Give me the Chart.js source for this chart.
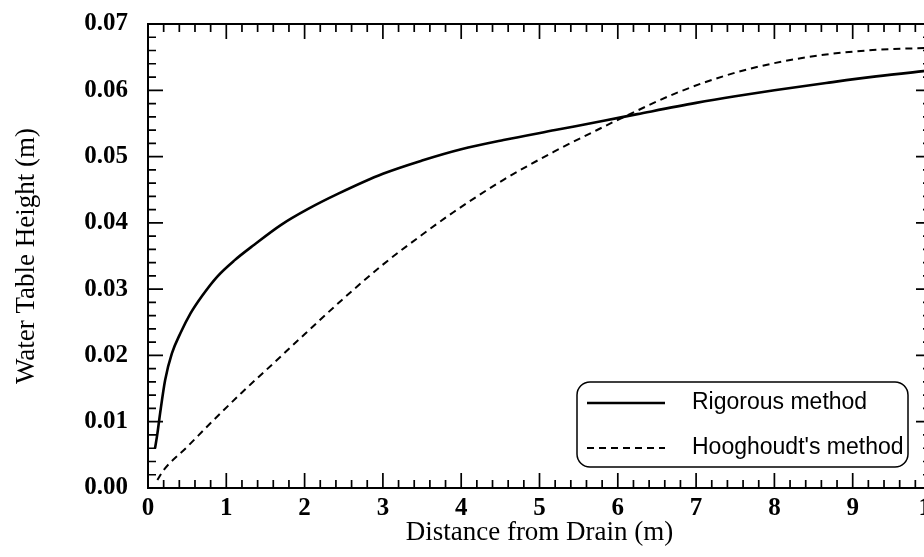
<!DOCTYPE html>
<html>
<head>
<meta charset="utf-8">
<title>Water Table Height</title>
<script src="https://cdn.jsdelivr.net/npm/chart.js@4.4.0/dist/chart.umd.min.js"></script>
<style>
  html, body { margin: 0; padding: 0; background: #fff; overflow: hidden; }
  #wrap { width: 932px; height: 557px; }
</style>
</head>
<body>
<div id="wrap"><canvas id="myChart"></canvas></div>
<script>
'use strict';

// Rigorous method (solid)
var rigX = [0.09, 0.12, 0.155, 0.219, 0.305, 0.412, 0.541, 0.692, 0.885, 1.1, 1.357, 1.7, 2.045, 2.43,
            3.0, 3.5, 4.0, 4.54, 5.2, 5.82, 6.25, 7.0, 7.5, 8.0, 8.66, 9.3, 10];
var rigY = [0.006, 0.0082, 0.0113, 0.0163, 0.0203, 0.0233, 0.0263, 0.029, 0.0319, 0.0343, 0.0367, 0.0397, 0.0421, 0.0444,
            0.0474, 0.0494, 0.0511, 0.0525, 0.054, 0.0554, 0.0564, 0.0581, 0.0591, 0.06, 0.0611, 0.0621, 0.063];

// Hooghoudt's method (dashed)
var hooX = [0.12, 0.2, 0.5, 0.8, 1.19, 1.61, 2.0, 2.47, 3.0, 3.5, 3.9, 4.54, 5.18, 5.82, 6.1,
            6.73, 7.37, 8.0, 8.66, 9.3, 10];
var hooY = [0.0012, 0.0027, 0.0062, 0.0098, 0.0143, 0.0189, 0.0232, 0.0283, 0.0337, 0.0382, 0.0416, 0.0465, 0.0507, 0.0545, 0.0561,
            0.0595, 0.0622, 0.0641, 0.0654, 0.0661, 0.0664];

var seriesNames = ['Rigorous method', "Hooghoudt's method"];
var xTickLabels = ['0', '1', '2', '3', '4', '5', '6', '7', '8', '9', '10'];
var yTickLabels = ['0.00', '0.01', '0.02', '0.03', '0.04', '0.05', '0.06', '0.07'];

function toPoints(xs, ys) {
  var pts = [];
  for (var i = 0; i < xs.length; i++) {
    pts.push({x: xs[i], y: ys[i]});
  }
  return pts;
}

function isMajorX(v) { return Math.abs(v - Math.round(v)) < 1e-6; }
function isMajorY(v) { return Math.abs(v * 100 - Math.round(v * 100)) < 1e-6; }

// frame + inward tick marks on all four sides
var frameTicks = {
  id: 'frameTicks',
  afterDatasetsDraw: function (chart) {
    var ctx = chart.ctx;
    var a = chart.chartArea;
    var xs = chart.scales.x, ys = chart.scales.y;
    ctx.save();
    ctx.strokeStyle = '#000';
    ctx.lineWidth = 2;
    ctx.strokeRect(a.left, a.top, a.right - a.left, a.bottom - a.top);
    ctx.lineWidth = 1.7;
    ctx.beginPath();
    xs.ticks.forEach(function (t) {
      var px = xs.getPixelForValue(t.value);
      var len = isMajorX(t.value) ? 15 : 8;
      ctx.moveTo(px, a.bottom); ctx.lineTo(px, a.bottom - len);
      ctx.moveTo(px, a.top); ctx.lineTo(px, a.top + len);
    });
    ys.ticks.forEach(function (t) {
      var py = ys.getPixelForValue(t.value);
      var len = isMajorY(t.value) ? 15 : 8;
      ctx.moveTo(a.left, py); ctx.lineTo(a.left + len, py);
      ctx.moveTo(a.right, py); ctx.lineTo(a.right - len, py);
    });
    ctx.stroke();
    ctx.restore();
  }
};

// rounded legend box in the lower right
var boxLegend = {
  id: 'boxLegend',
  afterDraw: function (chart) {
    var ctx = chart.ctx;
    var left = 577, top = 382, right = 908, bottom = 467, r = 13;
    ctx.save();
    ctx.fillStyle = '#fff';
    ctx.strokeStyle = '#000';
    ctx.lineWidth = 1.5;
    ctx.beginPath();
    ctx.roundRect(left, top, right - left, bottom - top, r);
    ctx.fill();
    ctx.stroke();

    var rows = [403, 448];
    chart.data.datasets.forEach(function (ds, i) {
      ctx.beginPath();
      ctx.lineWidth = ds.borderWidth;
      ctx.setLineDash(ds.borderDash || []);
      ctx.moveTo(587, rows[i]);
      ctx.lineTo(665, rows[i]);
      ctx.stroke();
      ctx.setLineDash([]);
      ctx.fillStyle = '#000';
      ctx.font = '23px "Liberation Sans", Arial, sans-serif';
      ctx.textBaseline = 'middle';
      ctx.textAlign = 'left';
      ctx.fillText(ds.label, 692, rows[i]);
    });
    ctx.restore();
  }
};

var serif = '"Liberation Serif", "Times New Roman", serif';

var ctx = document.getElementById('myChart').getContext('2d');
var chart = new Chart(ctx, {
  type: 'line',
  data: {
    datasets: [{
      label: seriesNames[0],
      data: toPoints(rigX, rigY),
      borderColor: '#000',
      borderWidth: 2.6,
      pointRadius: 0,
      fill: false,
      cubicInterpolationMode: 'monotone'
    },
    {
      label: seriesNames[1],
      data: toPoints(hooX, hooY),
      borderColor: '#000',
      borderWidth: 2,
      borderDash: [7, 5],
      pointRadius: 0,
      fill: false,
      cubicInterpolationMode: 'monotone'
    }]
  },
  options: {
    responsive: true,
    maintainAspectRatio: false,
    animation: false,
    layout: {
      padding: { left: 0, right: 1, top: 24, bottom: 0 }
    },
    plugins: {
      legend: { display: false },
      tooltip: { enabled: false }
    },
    scales: {
      x: {
        type: 'linear',
        min: 0,
        max: 10,
        afterFit: function (scale) {
          scale.height = 69;
          scale.paddingLeft = 0;
          scale.paddingRight = 0;
        },
        grid: { display: false, drawTicks: false },
        border: { display: false },
        ticks: {
          stepSize: 0.2,
          maxTicksLimit: 100,
          autoSkip: false,
          maxRotation: 0,
          minRotation: 0,
          padding: 6,
          color: '#000',
          font: { family: serif, size: 25, weight: 'bold', lineHeight: 1.2 },
          callback: function (v) { return isMajorX(v) ? xTickLabels[Math.round(v)] : ''; }
        },
        title: {
          display: true,
          text: 'Distance from Drain (m)',
          color: '#000',
          padding: { top: 0, bottom: 8 },
          font: { family: serif, size: 27, lineHeight: 1.2 }
        }
      },
      y: {
        type: 'linear',
        min: 0,
        max: 0.07,
        afterFit: function (scale) {
          scale.width = 148;
          scale.paddingTop = 0;
          scale.paddingBottom = 0;
        },
        grid: { display: false, drawTicks: false },
        border: { display: false },
        ticks: {
          stepSize: 0.002,
          maxTicksLimit: 100,
          autoSkip: false,
          padding: 20,
          color: '#000',
          font: { family: serif, size: 25, weight: 'bold', lineHeight: 1.2 },
          callback: function (v) { return isMajorY(v) ? yTickLabels[Math.round(v * 100)] : ''; }
        },
        title: {
          display: true,
          text: 'Water Table Height (m)',
          color: '#000',
          padding: { top: 11, bottom: 0 },
          font: { family: serif, size: 27, lineHeight: 1.2 }
        }
      }
    }
  },
  plugins: [frameTicks, boxLegend]
});
</script>
</body>
</html>
